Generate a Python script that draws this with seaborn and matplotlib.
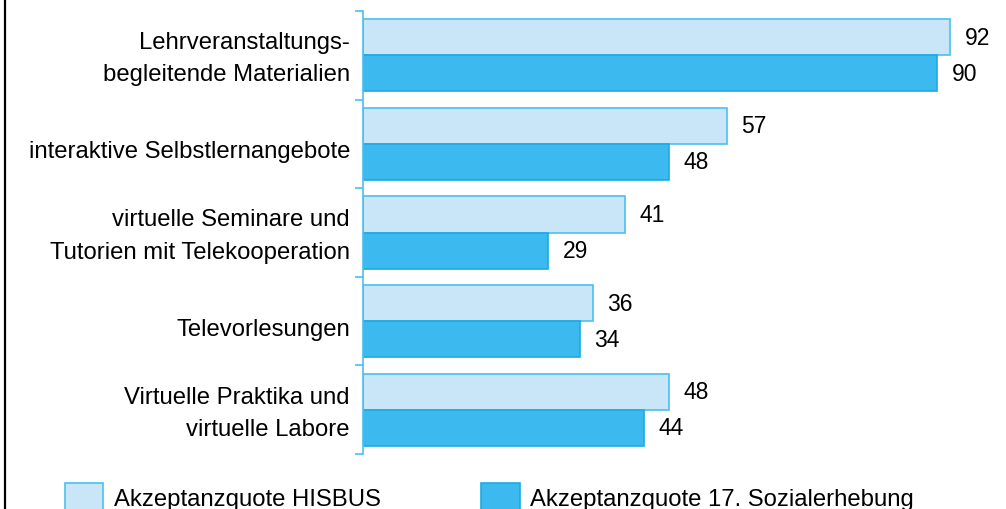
import matplotlib
matplotlib.use("Agg")
import matplotlib.pyplot as plt
import matplotlib.transforms as mtrans
import seaborn as sns
import pandas as pd
from matplotlib.lines import Line2D

categories = [
    "Lehrveranstaltungs-\nbegleitende Materialien",
    "interaktive Selbstlernangebote",
    "virtuelle Seminare und\nTutorien mit Telekooperation",
    "Televorlesungen",
    "Virtuelle Praktika und\nvirtuelle Labore",
]
series_names = ["Akzeptanzquote HISBUS", "Akzeptanzquote 17. Sozialerhebung"]
hisbus = [92, 57, 41, 36, 48]
sozial = [90, 48, 29, 34, 44]

df = pd.DataFrame({
    "Kategorie": categories * 2,
    "Serie": [series_names[0]] * len(categories) + [series_names[1]] * len(categories),
    "Wert": hisbus + sozial,
})

sns.set_theme(style="white")
plt.rcParams["font.family"] = ["Liberation Sans", "DejaVu Sans"]
plt.rcParams["text.color"] = "black"
plt.rcParams["ytick.labelcolor"] = "black"

fill_colors = ["#c9e6f8", "#3cb9ee"]
edge_colors = ["#4cbfee", "#1ea9e2"]
axis_color = "#4cbfee"

fig = plt.figure(figsize=(10.06, 5.10), dpi=100)
ax = fig.add_axes([363 / 1006, 1 - 455 / 510, 638 / 1006, 443 / 510])

sns.barplot(data=df, y="Kategorie", x="Wert", hue="Serie", orient="h",
            palette=fill_colors, width=0.815, ax=ax, legend=True, saturation=1)

for cont, ec in zip(ax.containers, edge_colors):
    for p in cont:
        p.set_edgecolor(ec)
        p.set_linewidth(1.2)
    ax.bar_label(cont, fmt="%d", padding=10.5, fontsize=16.5, color="black")

ax.set_xlim(0, 100)
ax.set_ylim(4.5, -0.5)
ax.set_xlabel("")
ax.set_ylabel("")
ax.set_xticks([])
for s in ["top", "right", "bottom"]:
    ax.spines[s].set_visible(False)
ax.spines["left"].set_color(axis_color)
ax.spines["left"].set_linewidth(1.2)

# category labels as text next to the axis
ax.set_yticks(range(len(categories)))
ax.set_yticklabels([""] * len(categories))
ax.tick_params(axis="y", which="major", left=False, length=0)
ax.set_yticks([i - 0.5 for i in range(len(categories) + 1)], minor=True)
ax.tick_params(axis="y", which="minor", left=True, length=5.5, width=1.2,
               color=axis_color, direction="out")

base = mtrans.blended_transform_factory(ax.transAxes, ax.transData)
for i, lab in enumerate(categories):
    dy = -3 if "\n" in lab else -7.5
    tr = base + mtrans.ScaledTranslation(-13 / 100, dy / 100, fig.dpi_scale_trans)
    ax.text(0, i, lab, transform=tr, ha="right", va="center", fontsize=17.2,
            linespacing=1.6, color="black", multialignment="right")

handles, labels = ax.get_legend_handles_labels()
ax.legend_.remove()
for h, ec in zip(handles, edge_colors):
    h.set_edgecolor(ec)
    h.set_linewidth(1.2)
leg = fig.legend(handles, labels, loc="upper left", bbox_to_anchor=(60 / 1006, 1 - 479 / 510),
                 ncol=2, frameon=False, fontsize=17.2, handlelength=1.6, handleheight=1.5,
                 handletextpad=0.45, columnspacing=4.22, borderaxespad=0, borderpad=0.2)
for t in leg.get_texts():
    t.set_color("black")

fig.add_artist(Line2D([5 / 1006, 5 / 1006], [0, 1], transform=fig.transFigure,
                      color="black", linewidth=1.6))

fig.savefig("out.png", dpi=100)
